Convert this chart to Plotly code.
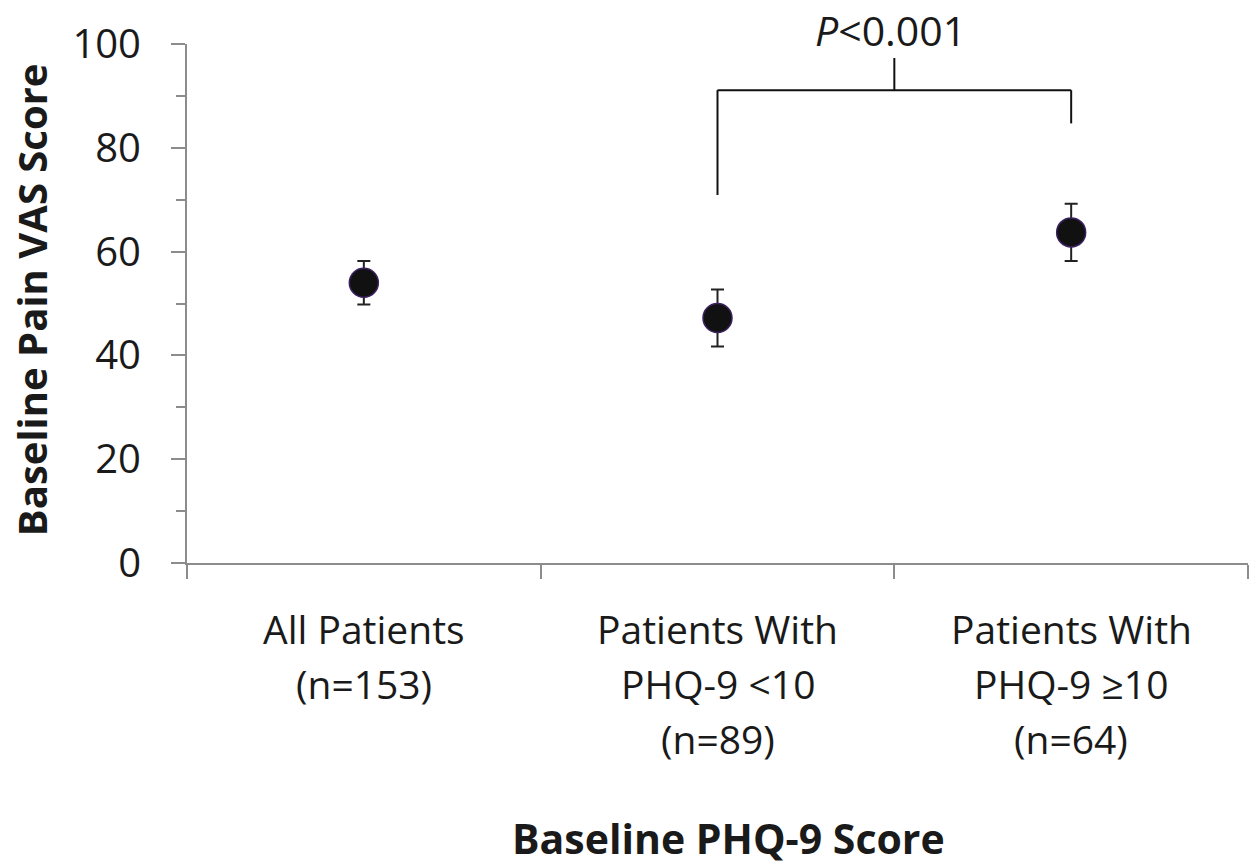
import plotly.graph_objects as go

# ---- data ----
categories = ["All Patients", "PHQ-9 <10", "PHQ-9 >=10"]
label_lines = [
    ["All Patients", "(n=153)"],
    ["Patients With", "PHQ-9 <10", "(n=89)"],
    ["Patients With", "PHQ-9 \u226510", "(n=64)"],
]
mean_vas = [54.0, 47.2, 63.7]
err_vas = [4.2, 5.5, 5.5]
y_ticks = [0, 20, 40, 60, 80, 100]

# significance bracket levels (data units)
bracket_top = 91.1
bracket_left_bottom = 70.9
bracket_right_bottom = 84.7
bracket_stem_top = 97.3
p_label_y = 102.7
p_label = "<i>P</i><0.001"

FONT = "Open Sans"
TXT = "#1a1a1a"
AX = "#8c8c8c"

fig = go.Figure()
fig.add_trace(go.Scatter(
    x=categories, y=mean_vas, mode="markers",
    marker=dict(size=29, color="#111111", line=dict(color="#3b2160", width=1.5)),
    error_y=dict(type="data", array=err_vas, visible=True, color="#222222",
                 thickness=2, width=6.5),
    showlegend=False, cliponaxis=False,
))

# bracket
line_style = dict(color="#111111", width=2)
fig.add_shape(type="line", xref="x", yref="y", x0=1, x1=1,
              y0=bracket_left_bottom, y1=bracket_top, line=line_style)
fig.add_shape(type="line", xref="x", yref="y", x0=1, x1=2,
              y0=bracket_top, y1=bracket_top, line=line_style)
fig.add_shape(type="line", xref="x", yref="y", x0=2, x1=2,
              y0=bracket_right_bottom, y1=bracket_top, line=line_style)
fig.add_shape(type="line", xref="x", yref="y", x0=1.5, x1=1.5,
              y0=bracket_top, y1=bracket_stem_top, line=line_style)
# y range is 0..100 so paper y = value / 100
fig.add_annotation(x=1.49, y=p_label_y / 100, xref="x", yref="paper", text=p_label,
                   showarrow=False, font=dict(family=FONT, size=41, color=TXT),
                   xanchor="center", yanchor="middle")

# category labels (multi-line, spaced like the reference)
line_gap = 55
first_line = 65
for i, lines in enumerate(label_lines):
    for j, t in enumerate(lines):
        fig.add_annotation(x=i, y=0, xref="x", yref="paper", text=t,
                           showarrow=False, yshift=-(first_line + j * line_gap),
                           font=dict(family=FONT, size=39, color=TXT),
                           xanchor="center", yanchor="middle")

# axis titles
fig.add_annotation(x=0.51, y=0, xref="paper", yref="paper",
                   text="<b>Baseline PHQ-9 Score</b>", showarrow=False,
                   yshift=-275, font=dict(family=FONT, size=41, color=TXT),
                   xanchor="center", yanchor="middle")
fig.add_annotation(x=-0.147, y=0.5065, xref="paper", yref="paper",
                   text="<b>Baseline Pain VAS Score</b>", showarrow=False,
                   textangle=-90, font=dict(family=FONT, size=40, color=TXT),
                   xanchor="center", yanchor="middle")

fig.update_layout(
    width=1249, height=867,
    margin=dict(l=187, r=1, t=44, b=304),
    paper_bgcolor="white", plot_bgcolor="white",
    xaxis=dict(
        type="category", range=[-0.5, 2.5], tickson="boundaries",
        ticks="outside", ticklen=14, tickwidth=2, tickcolor=AX,
        showline=True, linecolor=AX, linewidth=2,
        showgrid=False, zeroline=False, showticklabels=False,
        fixedrange=True,
    ),
    yaxis=dict(
        range=[0, 100], tickvals=y_ticks, ticks="outside", ticklen=14,
        tickwidth=2, tickcolor=AX, showline=True, linecolor=AX, linewidth=2,
        showgrid=False, zeroline=False,
        tickfont=dict(family=FONT, size=40, color=TXT),
        ticklabelstandoff=22,
        minor=dict(dtick=10, ticks="outside", ticklen=9, tickwidth=2,
                   tickcolor=AX, showgrid=False),
    ),
)

# remove the default page margin so the figure fills the window exactly
fig.write_html("out.html",
               config={"displayModeBar": False},
               post_script="document.body.style.margin='0';")
